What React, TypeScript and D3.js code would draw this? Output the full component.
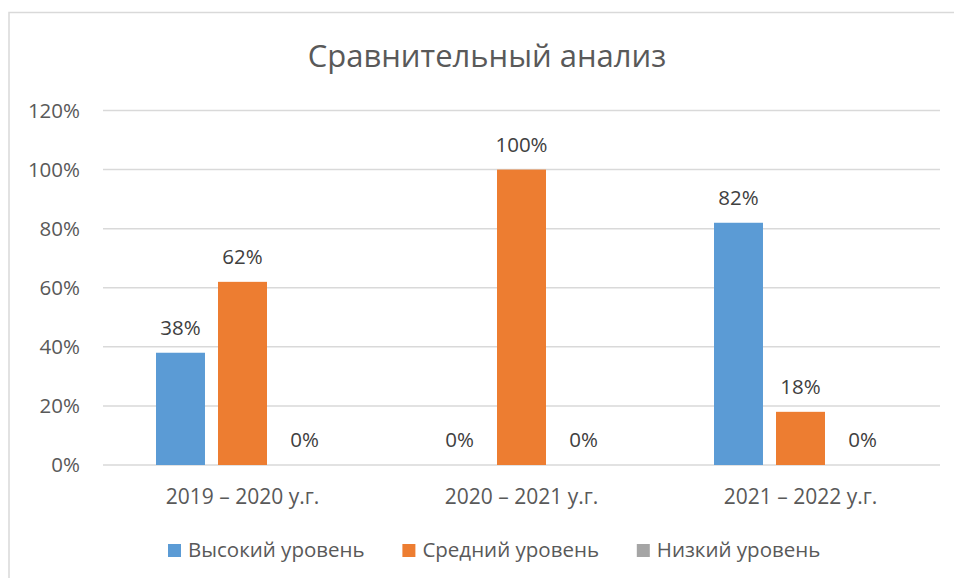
import React, { useEffect, useRef } from 'react';
import * as d3 from 'd3';

const categories = ['2019 – 2020 у.г.', '2020 – 2021 у.г.', '2021 – 2022 у.г.'];
const seriesNames = ['Высокий уровень', 'Средний уровень', 'Низкий уровень'];
const highLevel = [0.38, 0, 0.82];
const midLevel = [0.62, 1.0, 0.18];
const lowLevel = [0, 0, 0];
const yTicks = [0, 0.2, 0.4, 0.6, 0.8, 1.0, 1.2];
const colors = ['#5B9BD5', '#ED7D31', '#A5A5A5'];

const FONT = '"Open Sans", "Noto Sans", sans-serif';

export default function App() {
  const ref = useRef<SVGSVGElement>(null);

  useEffect(() => {
    const width = 954, height = 578;
    const left = 103, right = 940, top = 110.5, bottom = 465;
    const svg = d3.select(ref.current);
    svg.selectAll('*').remove();

    // chart frame
    svg.append('rect')
      .attr('x', 9).attr('y', 12.5)
      .attr('width', width + 20).attr('height', height + 20)
      .attr('fill', '#fff')
      .attr('stroke', '#D9D9D9').attr('stroke-width', 1.5);

    svg.append('text')
      .attr('x', 487).attr('y', 67)
      .attr('text-anchor', 'middle')
      .attr('font-family', FONT).attr('font-size', 31)
      .attr('fill', '#595959')
      .text('Сравнительный анализ');

    const y = d3.scaleLinear().domain([0, 1.2]).range([bottom, top]);
    const x0 = d3.scaleBand<string>().domain(categories).range([left, right]);
    const groupW = 173;
    const x1 = d3.scaleBand<string>().domain(seriesNames).range([0, groupW]).paddingInner(0.21);
    const offset = (x0.step() - groupW) / 2;
    const pct = d3.format('.0%');

    // gridlines
    svg.append('g').selectAll('line')
      .data(yTicks)
      .enter().append('line')
      .attr('x1', left).attr('x2', right)
      .attr('y1', d => y(d)).attr('y2', d => y(d))
      .attr('stroke', '#D9D9D9').attr('stroke-width', 1.5);

    svg.append('g').selectAll('text')
      .data(yTicks)
      .enter().append('text')
      .attr('x', 80).attr('y', d => y(d))
      .attr('dy', '0.36em')
      .attr('text-anchor', 'end')
      .attr('font-family', FONT).attr('font-size', 20.5)
      .attr('fill', '#595959')
      .text(d => pct(d));

    const series = [highLevel, midLevel, lowLevel];
    const rows = categories.flatMap((c, ci) =>
      seriesNames.map((s, si) => ({ c, s, si, v: series[si][ci] })));

    const groups = svg.append('g');
    groups.selectAll('rect')
      .data(rows.filter(d => d.v > 0))
      .enter().append('rect')
      .attr('x', d => (x0(d.c) as number) + offset + (x1(d.s) as number))
      .attr('y', d => y(d.v))
      .attr('width', x1.bandwidth())
      .attr('height', d => y(0) - y(d.v))
      .attr('fill', d => colors[d.si]);

    groups.selectAll('text')
      .data(rows)
      .enter().append('text')
      .attr('x', d => (x0(d.c) as number) + offset + (x1(d.s) as number) + x1.bandwidth() / 2)
      .attr('y', d => y(d.v) - 18)
      .attr('text-anchor', 'middle')
      .attr('font-family', FONT).attr('font-size', 20.5)
      .attr('fill', '#404040')
      .text(d => pct(d.v));

    // category labels
    svg.append('g').selectAll('text')
      .data(categories)
      .enter().append('text')
      .attr('x', d => (x0(d) as number) + x0.bandwidth() / 2)
      .attr('y', 504)
      .attr('text-anchor', 'middle')
      .attr('font-family', FONT).attr('font-size', 21)
      .attr('fill', '#595959')
      .text(d => d);

    // legend
    const lx = d3.scalePoint<string>().domain(seriesNames).range([168, 168 + 2 * 234.4]);
    const leg = svg.append('g').selectAll('g')
      .data(seriesNames)
      .enter().append('g')
      .attr('transform', d => 'translate(' + lx(d) + ',544)');
    leg.append('rect')
      .attr('width', 13).attr('height', 13)
      .attr('fill', (d, i) => colors[i]);
    leg.append('text')
      .attr('x', 20).attr('y', 12.5)
      .attr('font-family', FONT).attr('font-size', 20.5)
      .attr('fill', '#595959')
      .text(d => d);
  }, []);

  return (
    <div style={{ position: 'absolute', left: 0, top: 0 }}>
      <svg ref={ref} width={954} height={578} style={{ display: 'block' }} />
    </div>
  );
}
